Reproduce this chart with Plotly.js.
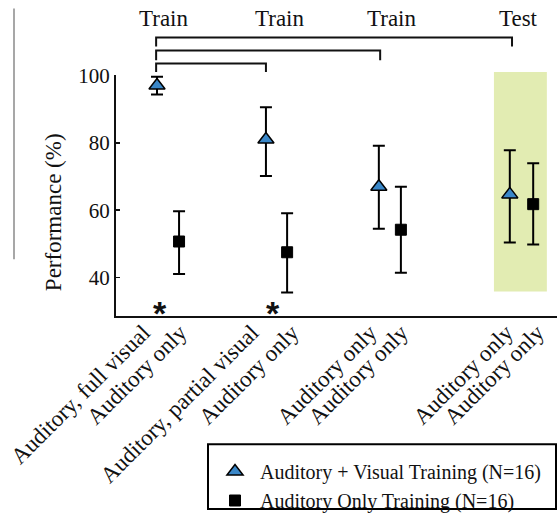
<!DOCTYPE html>
<html>
<head>
<meta charset="utf-8">
<script src="https://cdn.plot.ly/plotly-3.0.1.min.js"></script>
<style>html,body{margin:0;padding:0;background:#fff;}#chart{width:557px;height:520px;}</style>
</head>
<body>
<div id="chart"></div>
<script>
// ---- data ----
const conditionsAV = ["Auditory, full visual", "Auditory, partial visual", "Auditory only", "Auditory only"];
const conditionsAO = ["Auditory only", "Auditory only", "Auditory only", "Auditory only"];
const phaseLabels = ["Train", "Train", "Train", "Test"];
const xAV = [0.93, 3.40, 5.96, 8.93];
const xAO = [1.43, 3.88, 6.46, 9.46];
const avMean = [97.1, 81.0, 67.0, 64.7];
const avHigh = [99.7, 90.6, 79.2, 77.8];
const avLow  = [94.4, 70.2, 54.5, 50.4];
const aoMean = [50.7, 47.5, 54.2, 61.8];
const aoHigh = [59.7, 59.1, 67.0, 74.0];
const aoLow  = [41.0, 35.5, 41.4, 49.8];
const yTicks = [40, 60, 80, 100];
const seriesNames = ["Auditory + Visual Training (N=16)", "Auditory Only Training (N=16)"];
const yTitle = "Performance (%)";
const starX = [1.00, 3.56];
const starY = [31.8, 31.8];

// ---- layout helpers ----
const Y0 = 28.55, Y1 = 100.2;
const serif = "Liberation Serif, Times New Roman, serif";
function py(px) { return (321 - px) / 246; }   // pixel row -> paper y
function pxX(px) { return (px - 116) / 441; }  // pixel col -> paper x
// where the rotated condition labels end along the axis (axis units)
const labelPosAV = [0.62, 3.08, 5.76, 8.85];
const labelPosAO = [1.45, 3.99, 6.47, 9.55];

const traces = [
  {
    x: xAV, y: avMean, type: "scatter", mode: "markers", name: seriesNames[0],
    cliponaxis: false,
    marker: {symbol: "triangle-up", size: 14, color: "#3a87c8", line: {color: "#000", width: 1.5}},
    error_y: {type: "data", symmetric: false,
      array: avHigh.map((v, i) => v - avMean[i]),
      arrayminus: avMean.map((v, i) => v - avLow[i]),
      color: "#000", thickness: 2, width: 6}
  },
  {
    x: xAO, y: aoMean, type: "scatter", mode: "markers", name: seriesNames[1],
    cliponaxis: false,
    marker: {symbol: "square", size: 11, color: "#000", line: {color: "#000", width: 1}},
    error_y: {type: "data", symmetric: false,
      array: aoHigh.map((v, i) => v - aoMean[i]),
      arrayminus: aoMean.map((v, i) => v - aoLow[i]),
      color: "#000", thickness: 2, width: 6}
  }
];

// tick labels
const tickPairs = [];
for (let i = 0; i < conditionsAV.length; i++) {
  tickPairs.push([labelPosAV[i], conditionsAV[i]]);
  tickPairs.push([labelPosAO[i], conditionsAO[i]]);
}

const shapes = [
  // green test highlight
  {type: "rect", xref: "x", yref: "paper", x0: 8.57, x1: 9.77, y0: py(296), y1: py(72),
   fillcolor: "#e2ecb2", line: {width: 0}, layer: "below"},
  // left grey line
  {type: "line", xref: "paper", yref: "paper", x0: pxX(14), x1: pxX(14),
   y0: py(263), y1: py(7), line: {color: "#8a8a8a", width: 1.5}},
  // legend frame
  {type: "rect", xref: "paper", yref: "paper", x0: pxX(208), x1: pxX(556), y0: py(518), y1: py(452),
   line: {color: "#000", width: 2}, fillcolor: "rgba(0,0,0,0)"}
];
// comparison brackets: [right end x, top px, bottom px]
const brackets = [[xAV[3] + 0.05, 36.7, 46], [xAV[2] + 0.03, 50, 60], [xAV[1], 63.3, 72]];
const bLeft = xAV[0] - 0.02;
brackets.forEach(b => {
  shapes.push({type: "path", xref: "x", yref: "paper",
    path: `M ${bLeft},${py(b[2])} L ${bLeft},${py(b[1])} L ${b[0]},${py(b[1])} L ${b[0]},${py(b[2])}`,
    line: {color: "#111", width: 2}});
});

const annotations = [];
const phaseX = [1.07, 3.70, 6.24, 9.12];
phaseLabels.forEach((t, i) => annotations.push({
  text: t, xref: "x", yref: "paper", x: phaseX[i], y: py(17), showarrow: false,
  xanchor: "center", yanchor: "middle", font: {family: serif, size: 23, color: "#111"}
}));
starX.forEach((x, i) => annotations.push({
  text: "<b>*</b>", xref: "x", yref: "y", x: x, y: starY[i], showarrow: false,
  xanchor: "center", yanchor: "middle", yshift: -8,
  font: {family: "Liberation Sans, Arial, sans-serif", size: 34, color: "#111"}
}));
annotations.push({
  text: yTitle, xref: "paper", yref: "paper", x: pxX(53), y: py(215), textangle: -90,
  showarrow: false, xanchor: "center", yanchor: "middle",
  font: {family: serif, size: 23, color: "#111"}
});

const layout = {
  width: 557, height: 520,
  margin: {l: 116, r: 0, t: 75, b: 199, pad: 0},
  paper_bgcolor: "#fff", plot_bgcolor: "rgba(0,0,0,0)",
  showlegend: true,
  legend: {
    x: pxX(210), y: py(460), xanchor: "left", yanchor: "top",
    borderwidth: 0, bgcolor: "rgba(0,0,0,0)",
    font: {family: serif, size: 20, color: "#111"},
    itemwidth: 40, tracegroupgap: 0
  },
  xaxis: {
    range: [0, 10], showline: true, linecolor: "#111", linewidth: 2,
    showgrid: false, zeroline: false, ticks: "",
    tickvals: tickPairs.map(p => p[0]), ticktext: tickPairs.map(p => p[1]),
    tickangle: -45, ticklabelstandoff: -8, ticklabeloverflow: "allow",
    tickfont: {family: serif, size: 23, color: "#111"},
    fixedrange: true
  },
  yaxis: {
    range: [Y0, Y1], showline: true, linecolor: "#111", linewidth: 2,
    showgrid: false, zeroline: false,
    ticks: "inside", ticklen: 4, tickwidth: 1.5, tickcolor: "#111",
    tickvals: yTicks, ticktext: yTicks.map(String),
    tickfont: {family: serif, size: 21, color: "#111"},
    fixedrange: true
  },
  shapes: shapes,
  annotations: annotations
};

Plotly.newPlot("chart", traces, layout, {displayModeBar: false, staticPlot: true});
</script>
</body>
</html>
